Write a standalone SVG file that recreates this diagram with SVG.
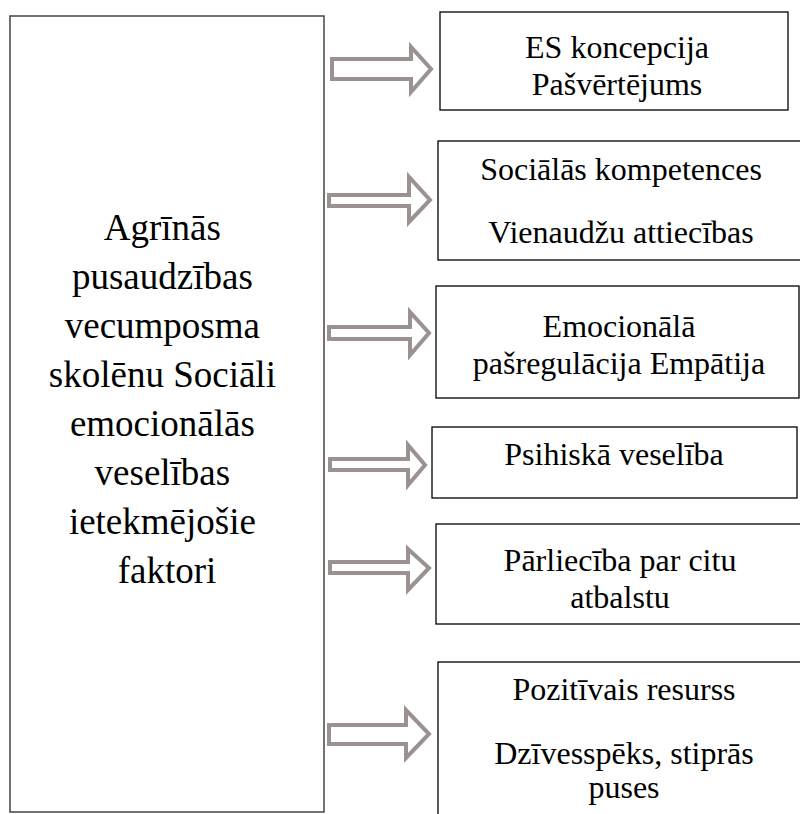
<svg xmlns="http://www.w3.org/2000/svg" width="800" height="814" viewBox="0 0 800 814">
  <style>
    text { font-family: "Liberation Serif", "Times New Roman", "DejaVu Serif", serif; fill: #000; text-anchor: middle; }
    .main { font-size: 37px; }
    .lbl { font-size: 32px; }
    .box { fill: #fff; stroke: #000; stroke-width: 1.3; }
    .mainbox { fill: #fff; stroke: #444; stroke-width: 1.5; }
    .arrow { fill: #fff; stroke: #9b9191; stroke-width: 4; stroke-linejoin: miter; }
  </style>
  <rect width="800" height="814" fill="#fff"/>

  <!-- central factor box -->
  <g id="factors" font-family="Liberation Serif, DejaVu Serif, serif">
    <rect class="mainbox" x="10" y="16" width="314" height="796"/>
    <text class="main" x="167" font-family="Liberation Serif, DejaVu Serif, serif">
      <tspan x="167" y="240">Agrīnās</tspan>
      <tspan x="167" y="289">pusaudzības</tspan>
      <tspan x="167" y="338">vecumposma</tspan>
      <tspan x="167" y="387">skolēnu Sociāli</tspan>
      <tspan x="167" y="436">emocionālās</tspan>
      <tspan x="167" y="485">veselības</tspan>
      <tspan x="167" y="534">ietekmējošie</tspan>
      <tspan x="167" y="583">faktori</tspan>
    </text>
  </g>

  <!-- hollow block arrows -->
  <g id="connectors">
    <path class="arrow" d="M332,59 L411,59 L411,47 L431,69 L411,92 L411,79 L332,79 Z"/>
    <path class="arrow" d="M329,195 L409,195 L409,177 L430,200 L409,222 L409,206 L329,206 Z"/>
    <path class="arrow" d="M329,327 L410,327 L410,312 L429,333 L410,355 L410,339 L329,339 Z"/>
    <path class="arrow" d="M330,459 L408,459 L408,445 L425,465 L408,485 L408,470 L330,470 Z"/>
    <path class="arrow" d="M330,562 L408,562 L408,549 L429,568 L408,590 L408,573 L330,573 Z"/>
    <path class="arrow" d="M329,725 L406,725 L406,710 L429,734 L406,758 L406,744 L329,744 Z"/>
  </g>

  <g id="es-koncepcija" font-family="Liberation Serif, DejaVu Serif, serif">
    <rect class="box" x="440" y="12" width="348" height="98"/>
    <text class="lbl" font-family="Liberation Serif, DejaVu Serif, serif"><tspan x="617" y="58">ES koncepcija</tspan><tspan x="617" y="95">Pašvērtējums</tspan></text>
  </g>

  <g id="socialas-kompetences">
    <rect class="box" x="438" y="141" width="370" height="119"/>
    <text class="lbl" font-family="Liberation Serif, DejaVu Serif, serif"><tspan x="621" y="180">Sociālās kompetences</tspan><tspan x="621" y="243">Vienaudžu attiecības</tspan></text>
  </g>

  <g id="emocionala-pasregulacija">
    <rect class="box" x="436" y="286" width="363" height="112"/>
    <text class="lbl" font-family="Liberation Serif, DejaVu Serif, serif"><tspan x="619" y="337">Emocionālā</tspan><tspan x="619" y="374">pašregulācija Empātija</tspan></text>
  </g>

  <g id="psihiska-veseliba">
    <rect class="box" x="432" y="427" width="365" height="71"/>
    <text class="lbl" x="614" y="465" font-family="Liberation Serif, DejaVu Serif, serif">Psihiskā veselība</text>
  </g>

  <g id="parlieciba">
    <rect class="box" x="436" y="524" width="370" height="100"/>
    <text class="lbl" font-family="Liberation Serif, DejaVu Serif, serif"><tspan x="620" y="571">Pārliecība par citu</tspan><tspan x="620" y="608">atbalstu</tspan></text>
  </g>

  <g id="pozitivais-resurss">
    <rect class="box" x="438" y="662" width="370" height="170"/>
    <text class="lbl" font-family="Liberation Serif, DejaVu Serif, serif"><tspan x="624" y="700">Pozitīvais resurss</tspan><tspan x="624" y="764">Dzīvesspēks, stiprās</tspan><tspan x="624" y="798">puses</tspan></text>
  </g>
</svg>
